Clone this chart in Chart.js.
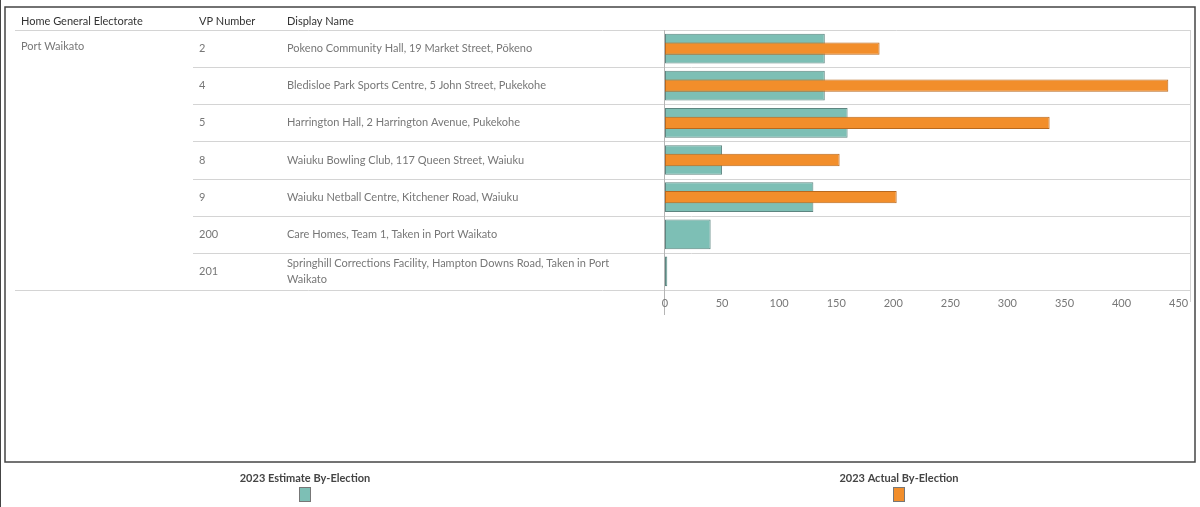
<!DOCTYPE html>
<html>
<head>
<meta charset="utf-8">
<script src="https://cdn.jsdelivr.net/npm/chart.js@4.4.0/dist/chart.umd.min.js"></script>
<style>
  html, body { margin: 0; padding: 0; background: #fff; }
  #wrap { position: relative; width: 1200px; height: 507px; }
</style>
</head>
<body>
<div id="wrap"><canvas id="vpChart" width="1200" height="507"></canvas></div>
<script>
// data
const electorate = "Port Waikato";
const vpNumbers = ["2", "4", "5", "8", "9", "200", "201"];
const displayNames = [
    ["Pokeno Community Hall, 19 Market Street, Pōkeno"],
    ["Bledisloe Park Sports Centre, 5 John Street, Pukekohe"],
    ["Harrington Hall, 2 Harrington Avenue, Pukekohe"],
    ["Waiuku Bowling Club, 117 Queen Street, Waiuku"],
    ["Waiuku Netball Centre, Kitchener Road, Waiuku"],
    ["Care Homes, Team 1, Taken in Port Waikato"],
    ["Springhill Corrections Facility, Hampton Downs Road, Taken in Port", "Waikato"]
];
const estimate2023 = [140, 140, 160, 50, 130, 40, 2];
const actual2023 = [188, 441, 337, 153, 203, null, null];
const xTicks = [0, 50, 100, 150, 200, 250, 300, 350, 400, 450];

const fontFam = "Lato, 'Noto Sans', sans-serif";
const teal = "#7dbfb5";
const orange = "#f28e2b";

// table text, row lines, frame and legend around the plot
const tablePlugin = {
    id: 'tablePlugin',
    beforeDraw(chart) {
        const c = chart.ctx;
        const y = chart.scales.y;
        const area = chart.chartArea;
        c.save();
        c.fillStyle = "#fff";
        c.fillRect(0, 0, chart.width, chart.height);

        // frame
        c.strokeStyle = "#444";
        c.lineWidth = 1.5;
        c.strokeRect(5, 7, 1190, 455);
        c.lineWidth = 1;
        c.beginPath(); c.moveTo(0.5, 0); c.lineTo(0.5, chart.height); c.stroke();

        // header
        const top = area.top;
        c.font = "11px " + fontFam;
        c.fillStyle = "#333";
        c.textBaseline = "middle";
        c.fillText("Home General Electorate", 21, top - 9);
        c.fillText("VP Number", 199, top - 9);
        c.fillText("Display Name", 287, top - 9);

        // row lines
        c.strokeStyle = "#d4d4d4";
        c.beginPath();
        c.moveTo(15, top + 0.5); c.lineTo(area.right, top + 0.5);
        const band = y.getPixelForValue(1) - y.getPixelForValue(0);
        for (let i = 0; i < vpNumbers.length - 1; i++) {
            const yy = Math.round(y.getPixelForValue(i) + band / 2) + 0.5;
            c.moveTo(193, yy); c.lineTo(area.right, yy);
        }
        c.moveTo(15, area.bottom + 0.5); c.lineTo(area.right, area.bottom + 0.5);
        c.stroke();

        // plot right edge and zero axis
        c.beginPath();
        c.moveTo(area.right + 0.5, top); c.lineTo(area.right + 0.5, area.bottom + 12);
        c.stroke();
        c.strokeStyle = "#b5b5b5";
        c.beginPath();
        c.moveTo(area.left - 0.5, top); c.lineTo(area.left - 0.5, area.bottom + 25);
        c.stroke();

        // cell text
        c.fillStyle = "#777";
        c.fillText(electorate, 21, y.getPixelForValue(0) - 2);
        vpNumbers.forEach((vp, i) => {
            const cy = y.getPixelForValue(i);
            const lines = displayNames[i];
            c.fillText(vp, 199, cy);
            lines.forEach((ln, k) => {
                c.fillText(ln, 287, cy + (k - (lines.length - 1) / 2) * 16);
            });
        });

        // legend
        const legend = [["2023 Estimate By-Election", teal, 305], ["2023 Actual By-Election", orange, 899]];
        c.textAlign = "center";
        c.font = "bold 11px " + fontFam;
        legend.forEach(([txt, col, lx]) => {
            c.fillStyle = "#444";
            c.fillText(txt, lx, 478);
            c.fillStyle = col;
            c.fillRect(lx - 6, 487, 12, 15);
            c.strokeStyle = "#777";
            c.strokeRect(lx - 5.5, 487.5, 11, 14);
        });
        c.restore();
    }
};

new Chart(document.getElementById("vpChart"), {
    type: 'bar',
    data: {
        labels: vpNumbers,
        datasets: [
            {
                label: "2023 Actual By-Election",
                data: actual2023,
                backgroundColor: orange,
                borderColor: "#b8681e",
                borderWidth: 1,
                borderSkipped: false,
                barPercentage: 0.33,
                categoryPercentage: 1,
                grouped: false,
                order: 1
            },
            {
                label: "2023 Estimate By-Election",
                data: estimate2023,
                backgroundColor: teal,
                borderColor: "#5e8580",
                borderWidth: 1,
                borderSkipped: false,
                barPercentage: 0.8,
                categoryPercentage: 1,
                grouped: false,
                order: 2
            }
        ]
    },
    options: {
        indexAxis: 'y',
        responsive: false,
        animation: false,
        layout: { padding: { left: 665, right: 10, top: 30, bottom: 0 } },
        scales: {
            y: { display: false },
            x: {
                min: 0,
                max: 460,
                grid: { display: false, drawTicks: false },
                border: { display: false },
                afterBuildTicks: (scale) => {
                    scale.ticks = xTicks.map(v => ({ value: v }));
                },
                afterFit: (scale) => { scale.height = 217; },
                ticks: {
                    color: "#777",
                    padding: 7,
                    font: { family: fontFam, size: 11 }
                }
            }
        },
        plugins: {
            legend: { display: false },
            tooltip: { enabled: false }
        }
    },
    plugins: [tablePlugin]
});
</script>
</body>
</html>
